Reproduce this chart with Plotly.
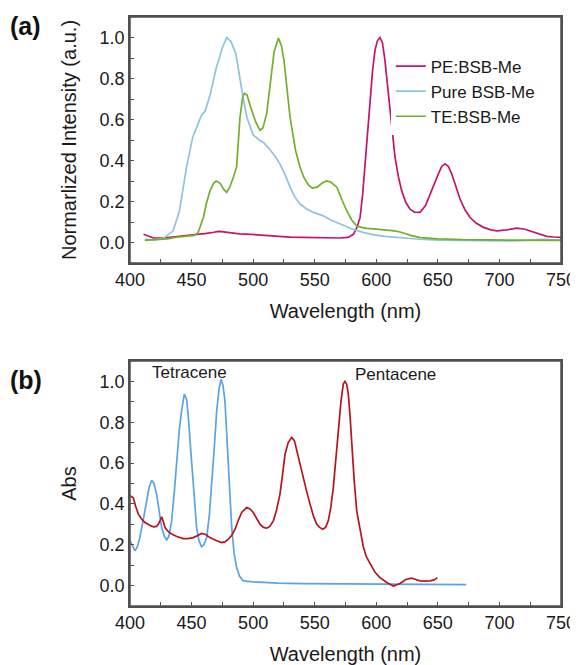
import plotly.graph_objects as go

# ---------- Panel (a): normalized PL ----------
pe_wl = [411, 415, 419, 427, 434, 440, 447, 454, 462, 468, 472, 476, 482, 489, 498, 508, 515, 522, 530, 540,
         550, 560, 570, 577, 581.4, 584, 586.8, 589, 590.8, 593, 594.9, 597, 599, 601, 603, 605, 607, 609,
         611.1, 613, 615.2, 618, 620.6, 624, 627.4, 631, 635.5, 640, 643.6, 647, 650.4, 653, 655.8, 658.5,
         661.2, 664, 668, 672, 676, 681, 687, 693, 698, 704, 710, 714, 720, 727.5, 733, 738.4, 744, 750]
pe_val = [0.04, 0.03, 0.022, 0.022, 0.026, 0.03, 0.034, 0.037, 0.045, 0.05, 0.054, 0.052, 0.046, 0.042, 0.04,
          0.036, 0.032, 0.028, 0.026, 0.025, 0.023, 0.022, 0.022, 0.025, 0.04, 0.07, 0.12, 0.24, 0.37, 0.53,
          0.695, 0.84, 0.94, 0.985, 1.0, 0.975, 0.89, 0.78, 0.645, 0.53, 0.417, 0.32, 0.253, 0.195, 0.163,
          0.148, 0.147, 0.18, 0.237, 0.29, 0.335, 0.37, 0.384, 0.372, 0.335, 0.285, 0.212, 0.16, 0.123, 0.095,
          0.074, 0.062, 0.057, 0.06, 0.068, 0.07, 0.066, 0.05, 0.04, 0.03, 0.027, 0.025]

pure_wl = [412, 420, 427, 435, 440, 446, 451, 455, 458, 461, 465, 470, 475, 478.5, 482, 486, 489, 492, 495,
           500, 505, 509, 514, 518, 522, 526, 530, 534, 538, 543, 549, 557, 563, 568, 575, 581, 590, 598,
           607, 616, 625, 635, 650, 670, 690, 710, 725, 735, 750]
pure_val = [0.015, 0.013, 0.02, 0.057, 0.15, 0.37, 0.515, 0.57, 0.62, 0.64, 0.72, 0.85, 0.95, 1.0, 0.98,
            0.92, 0.80, 0.70, 0.61, 0.525, 0.50, 0.485, 0.45, 0.42, 0.38, 0.33, 0.27, 0.22, 0.188, 0.165,
            0.147, 0.13, 0.11, 0.098, 0.078, 0.065, 0.048, 0.037, 0.03, 0.025, 0.02, 0.016, 0.012, 0.01,
            0.009, 0.008, 0.012, 0.015, 0.012]

te_wl = [412, 420, 430, 440, 447, 452, 455, 459.5, 462, 465, 468, 470, 473, 476, 478.5, 481, 484, 486.6,
         489.3, 491.5, 493, 495, 498, 502, 505.6, 508, 511, 514, 517, 520.5, 523, 525, 527.2, 530, 534.4,
         538, 541, 545, 548, 552, 556, 559.7, 563, 568, 572, 576, 580, 584, 588, 592.5, 600, 608, 615, 620,
         628, 636, 650, 670, 700, 750]
te_val = [0.01, 0.012, 0.018, 0.028, 0.033, 0.035, 0.045, 0.12, 0.19, 0.253, 0.29, 0.30, 0.29, 0.26, 0.245,
          0.27, 0.32, 0.37, 0.61, 0.71, 0.727, 0.72, 0.66, 0.59, 0.547, 0.56, 0.63, 0.78, 0.93, 0.997, 0.96,
          0.89, 0.776, 0.61, 0.45, 0.37, 0.32, 0.28, 0.265, 0.27, 0.29, 0.30, 0.295, 0.27, 0.21, 0.155, 0.11,
          0.082, 0.074, 0.069, 0.065, 0.062, 0.057, 0.05, 0.035, 0.024, 0.018, 0.014, 0.012, 0.01]

# ---------- Panel (b): absorption ----------
tet_wl = [400, 402, 404, 406, 408, 411, 413.5, 415.5, 417.6, 419.5, 421.6, 423.5, 425.7, 428, 429.8, 431.5,
          433.8, 436, 437.9, 440, 441.9, 444.1, 446, 447.4, 449.5, 451.4, 454.1, 456, 458.1, 460, 462.3,
          464.5, 466.3, 468.5, 470.4, 472.5, 474, 475.5, 477.1, 479.9, 482.6, 484.5, 486.6, 489, 492, 500,
          508, 520, 540, 560, 580, 600, 620, 640, 660, 673]
tet_val = [0.219, 0.19, 0.17, 0.19, 0.235, 0.33, 0.415, 0.48, 0.516, 0.5, 0.448, 0.37, 0.284, 0.24, 0.224,
           0.24, 0.317, 0.46, 0.611, 0.76, 0.856, 0.938, 0.91, 0.824, 0.65, 0.48, 0.284, 0.22, 0.191, 0.2,
           0.235, 0.35, 0.48, 0.68, 0.856, 0.97, 1.01, 0.98, 0.905, 0.611, 0.284, 0.16, 0.088, 0.045, 0.023,
           0.018, 0.015, 0.012, 0.01, 0.009, 0.008, 0.008, 0.007, 0.006, 0.006, 0.005]

pen_wl = [400, 402.7, 404.5, 406.8, 409.5, 412.2, 416, 419, 421.5, 423, 424.5, 425.7, 427, 428.4, 431, 433.8,
          438, 443.3, 447, 451.4, 455, 458.1, 461.5, 464.9, 469.5, 474.4, 477.5, 479.9, 482.5, 485.3, 488,
          490.7, 494.7, 497.5, 500.1, 503, 505.6, 508.5, 511, 513.5, 516.4, 519, 521.8, 523.8, 525.9, 528.5,
          531.3, 533.5, 535.4, 538, 540.7, 543.5, 546.2, 549, 551.6, 554, 556.5, 558.8, 561, 563, 565.1,
          567.2, 569.2, 571.3, 573.2, 574.6, 576, 577.3, 578.7, 580.1, 582, 584.1, 587, 589.6, 592, 595, 599,
          603, 608.5, 613.9, 619.3, 624, 628.7, 632, 635.5, 640, 643.6, 647, 649.6]
pen_val = [0.44, 0.43, 0.39, 0.35, 0.325, 0.309, 0.295, 0.288, 0.29, 0.30, 0.32, 0.337, 0.315, 0.284, 0.265,
           0.252, 0.24, 0.23, 0.23, 0.235, 0.245, 0.255, 0.25, 0.235, 0.222, 0.211, 0.215, 0.227, 0.245,
           0.276, 0.32, 0.358, 0.382, 0.375, 0.358, 0.33, 0.30, 0.285, 0.281, 0.29, 0.317, 0.37, 0.448, 0.54,
           0.644, 0.70, 0.726, 0.71, 0.66, 0.6, 0.53, 0.46, 0.399, 0.34, 0.30, 0.285, 0.276, 0.285, 0.317,
           0.38, 0.48, 0.62, 0.775, 0.9, 0.987, 1.0, 0.985, 0.938, 0.83, 0.693, 0.52, 0.366, 0.26, 0.186,
           0.14, 0.105, 0.065, 0.039, 0.015, -0.002, 0.01, 0.03, 0.036, 0.03, 0.023, 0.022, 0.023, 0.028,
           0.039]

FONT = "Liberation Sans, Arial, sans-serif"
TXT = "#1a1a1a"
AX = "#505050"

fig = go.Figure()
fig.add_trace(go.Scatter(x=pe_wl, y=pe_val, mode="lines", name="PE:BSB-Me",
                         line=dict(color="#c2156b", width=1.7), xaxis="x", yaxis="y"))
fig.add_trace(go.Scatter(x=pure_wl, y=pure_val, mode="lines", name="Pure BSB-Me",
                         line=dict(color="#8ec3dc", width=1.7), xaxis="x", yaxis="y"))
fig.add_trace(go.Scatter(x=te_wl, y=te_val, mode="lines", name="TE:BSB-Me",
                         line=dict(color="#74ae2c", width=1.7), xaxis="x", yaxis="y"))
fig.add_trace(go.Scatter(x=tet_wl, y=tet_val, mode="lines", name="Tetracene", showlegend=False,
                         line=dict(color="#5ba3e3", width=1.7), xaxis="x2", yaxis="y2"))
fig.add_trace(go.Scatter(x=pen_wl, y=pen_val, mode="lines", name="Pentacene", showlegend=False,
                         line=dict(color="#b5151f", width=1.7), xaxis="x2", yaxis="y2"))


def xax(anchor):
    return dict(anchor=anchor, domain=[0, 1], range=[400, 750], dtick=50, tick0=400,
                showline=True, linecolor=AX, linewidth=1.5, mirror=True,
                ticks="inside", ticklen=4, tickcolor=AX,
                minor=dict(dtick=25, ticks="inside", ticklen=4, tickcolor=AX),
                showgrid=False, zeroline=False, automargin=False,
                tickfont=dict(family=FONT, size=18, color=TXT),
                title=dict(text="Wavelength (nm)", font=dict(family=FONT, size=20, color=TXT), standoff=15))


def yax(anchor, dom, title):
    return dict(anchor=anchor, domain=dom, range=[-0.1, 1.1], dtick=0.2, tick0=0, tickformat=".1f",
                showline=True, linecolor=AX, linewidth=1.5, mirror=True,
                ticks="inside", ticklen=4, tickcolor=AX,
                minor=dict(dtick=0.1, ticks="inside", ticklen=4, tickcolor=AX),
                showgrid=False, zeroline=False, automargin=False,
                tickfont=dict(family=FONT, size=18, color=TXT),
                title=dict(text=title, font=dict(family=FONT, size=20, color=TXT), standoff=18))


fig.add_shape(type="rect", xref="x domain", yref="y domain", x0=0, x1=1, y0=0, y1=1,
              line=dict(color=AX, width=1.5), layer="above")
fig.add_shape(type="rect", xref="x2 domain", yref="y2 domain", x0=0, x1=1, y0=0, y1=1,
              line=dict(color=AX, width=1.5), layer="above")

fig.add_annotation(text="Tetracene", x=448.7, y=1.045, xref="x2", yref="y2", showarrow=False,
                   font=dict(family=FONT, size=17, color=TXT))
fig.add_annotation(text="Pentacene", x=615.6, y=1.033, xref="x2", yref="y2", showarrow=False,
                   font=dict(family=FONT, size=17, color=TXT))
fig.add_annotation(text="<b>(a)</b>", x=0, y=0.984, xref="paper", yref="paper", xanchor="left",
                   yanchor="middle", showarrow=False, xshift=-122,
                   font=dict(family=FONT, size=25, color="#111111"))
fig.add_annotation(text="<b>(b)</b>", x=0, y=0.3837, xref="paper", yref="paper", xanchor="left",
                   yanchor="middle", showarrow=False, xshift=-122,
                   font=dict(family=FONT, size=25, color="#111111"))

# the page body keeps its default 8 px margin, so the figure is shrunk by 8 px to keep the plot in place
fig.update_layout(
    width=570, height=657,
    margin=dict(l=122, r=17, t=9, b=59),
    paper_bgcolor="white", plot_bgcolor="white",
    font=dict(family=FONT, color=TXT),
    xaxis=xax("y"),
    yaxis=yax("x", [0.5823, 1.0], "Normarlized Intensity (a.u.)"),
    xaxis2=xax("y2"),
    yaxis2=yax("x2", [0.0, 0.416], "Abs"),
    legend=dict(x=0.605, y=0.9465, xanchor="left", yanchor="top",
                font=dict(family=FONT, size=17, color=TXT)),
)

fig.write_html("out.html", config={"displayModeBar": False})
